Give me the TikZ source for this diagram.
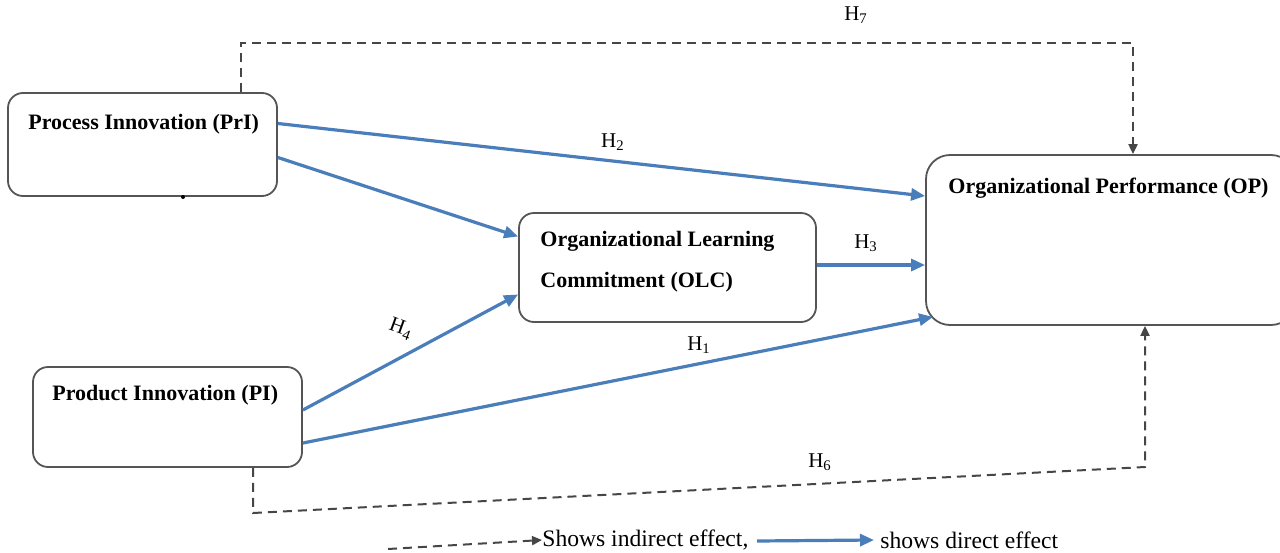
\documentclass[tikz,border=0pt]{standalone}
\usepackage{fontspec}
\setmainfont{Liberation Serif}
\usetikzlibrary{arrows.meta,calc}
\definecolor{arrblue}{RGB}{74,126,187}
\definecolor{boxgray}{RGB}{85,85,85}
\definecolor{dashgray}{RGB}{70,70,70}
\begin{document}
\begin{tikzpicture}[x=0.5pt,y=-0.5pt,
  box/.style={draw=boxgray,line width=0.9pt,rounded corners=7.5pt,inner sep=0pt},
  ttl/.style={font=\fontsize{11}{20.5}\selectfont\bfseries,anchor=west,inner sep=0pt,align=left},
  hlab/.style={font=\fontsize{10.5}{12}\selectfont,inner sep=0pt},
  leg/.style={font=\fontsize{11.8}{13}\selectfont,inner sep=0pt,anchor=west},
  direct/.style={draw=arrblue,line width=1.6pt,-{Triangle[length=7pt,width=6pt]}},
  indirect/.style={draw=dashgray,line width=1pt,dash pattern=on 4.5pt off 3pt,-{Triangle[length=5pt,width=4.5pt]}}]
\clip (0,0) rectangle (1280,552);
\fill[white] (0,0) rectangle (1280,552);
% boxes
\node[box,minimum width=134.5pt,minimum height=51.5pt] (PrI) at (142.5,144.5) {};
\node[box,minimum width=148.5pt,minimum height=54.5pt] (OLC) at (667.5,267.5) {};
\node[box,minimum width=184.5pt,minimum height=85pt,rounded corners=12pt] (OP) at (1110.5,240) {};
\node[box,minimum width=134.5pt,minimum height=50pt] (PI) at (167.5,417) {};
% titles
\node[ttl] (tPrI) at (28,124) {Process Innovation (PrI)};
\node[ttl] (tOLC) at (540,262) {Organizational Learning\\Commitment (OLC)};
\node[ttl] (tOP) at (948,188) {Organizational Performance (OP)};
\node[ttl] (tPI) at (52,395) {Product Innovation (PI)};
% small mark under PrI
\fill[black] (183,197) circle (1pt);
% direct effects
\draw[direct] ($(PrI.east)+(0,-21)$) -- ($(OP.west)+(0,-44)$);
\draw[direct] ($(PrI.east)+(0,13)$) -- ($(OLC.west)+(0,-31)$);
\draw[direct] ($(OLC.east)+(0,-2.5)$) -- ($(OP.west)+(0,25)$);
\draw[direct] ($(PI.east)+(0,-7)$) -- ($(OLC.west)+(0,27)$);
\draw[direct] ($(PI.east)+(0,26)$) -- ($(OP.south west)+(8,-9)$);
% indirect effects
\coordinate (h7a) at (241,43);
\coordinate (h7b) at (1133,43);
\draw[indirect] (PrI.north -| h7a) -- (h7a) -- (h7b) -- (OP.north -| h7b);
\coordinate (h6a) at (253,513);
\coordinate (h6b) at (1145,467);
\draw[indirect] (PI.south -| h6a) -- (h6a) -- (h6b) -- (OP.south -| h6b);
% hypothesis labels
\node[hlab] (H7) at (856,15) {H\textsubscript{7}};
\node[hlab] (H2) at (613,142) {H\textsubscript{2}};
\node[hlab] (H3) at (866,243) {H\textsubscript{3}};
\node[hlab,rotate=-20] (H4) at (401,329) {H\textsubscript{4}};
\node[hlab] (H1) at (699,345) {H\textsubscript{1}};
\node[hlab] (H6) at (820,462) {H\textsubscript{6}};
% legend
\coordinate (la) at (388,549);
\node[leg] (lind) at (542,540) {Shows indirect effect,};
\coordinate (lb) at (757,541);
\node[leg] (ldir) at (880,540) {shows direct effect};
\draw[indirect] (la) -- (lind.west);
\draw[direct] (lb) -- ([xshift=-3pt]ldir.west);
\end{tikzpicture}
\end{document}
